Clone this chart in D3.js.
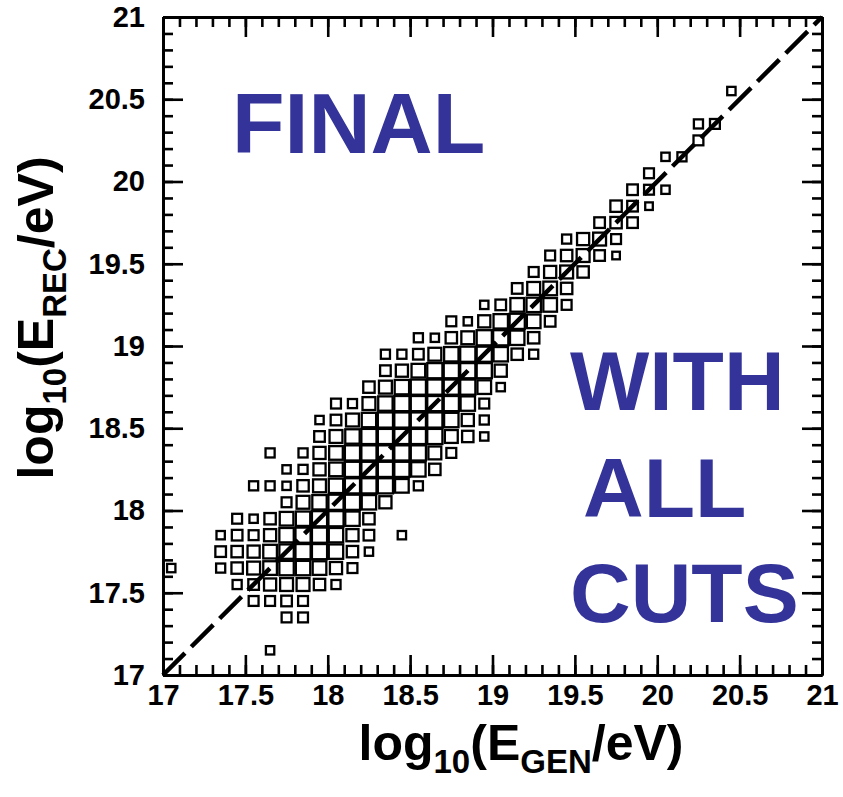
<!DOCTYPE html>
<html>
<head>
<meta charset="utf-8">
<script src="https://cdn.jsdelivr.net/npm/d3@7.9.0/dist/d3.min.js"></script>
<style>
  body { margin: 0; background: #fff; }
  svg { display: block; font-family: "Liberation Sans", Arial, Helvetica, sans-serif; font-weight: bold; }
</style>
</head>
<body>
<svg id="chart" width="843" height="797"></svg>
<script>
// 2D histogram, bins of 0.1 in log10(E). one row per y bin:
// lower edge of the y bin, lower edge of the first x bin, then entries (0 = empty)
const rowY = [17.1, 17.3, 17.4, 17.5, 17.6, 17.7, 17.8, 17.9, 18.0, 18.1, 18.2, 18.3, 18.4, 18.5,
  18.6, 18.7, 18.8, 18.9, 19.0, 19.1, 19.2, 19.3, 19.4, 19.5, 19.6, 19.7, 19.8, 19.9, 20.0, 20.1,
  20.2, 20.3, 20.5];
const rowX0 = [17.6, 17.7, 17.5, 17.4, 17.0, 17.3, 17.3, 17.4, 17.7, 17.5, 17.7, 17.6, 17.9, 17.9,
  18.0, 18.2, 18.3, 18.3, 18.5, 18.7, 18.9, 19.1, 19.2, 19.3, 19.4, 19.6, 19.7, 19.8, 19.9, 20.0,
  20.2, 20.2, 20.4];
const rowCounts = [
  [2],
  [4, 4],
  [4, 4, 5, 4],
  [3, 5, 7, 8, 8, 6, 3],
  [2, 0, 0, 3, 6, 8, 9, 10, 10, 9, 7, 4],
  [5, 6, 7, 9, 10, 11, 11, 10, 6, 2],
  [2, 5, 4, 7, 10, 11, 11, 10, 7, 5, 0, 2],
  [4, 2, 6, 9, 10, 11, 11, 10, 6],
  [4, 8, 10, 11, 11, 10, 7],
  [3, 3, 2, 6, 8, 10, 11, 11, 11, 9, 3],
  [2, 3, 7, 9, 11, 11, 11, 11, 10, 6],
  [3, 0, 3, 7, 9, 11, 11, 11, 11, 11, 8, 4],
  [5, 8, 10, 11, 11, 11, 11, 11, 8, 6, 2],
  [2, 5, 8, 10, 11, 11, 11, 11, 10, 7, 3],
  [4, 3, 8, 10, 11, 11, 11, 11, 10, 4],
  [6, 8, 10, 11, 11, 11, 11, 9, 2],
  [5, 7, 9, 11, 11, 11, 11, 7],
  [3, 3, 5, 8, 10, 11, 11, 10, 6, 3],
  [3, 2, 6, 8, 11, 11, 10, 6],
  [4, 2, 7, 10, 11, 9, 5],
  [2, 5, 9, 10, 9, 4],
  [5, 8, 9, 6],
  [4, 7, 8, 6],
  [4, 6, 8, 5, 1],
  [3, 7, 8, 4],
  [5, 6, 5],
  [6, 5, 1],
  [5, 4, 2],
  [4],
  [2, 3],
  [4],
  [3, 4],
  [2]
];
const majorTicks = [17, 17.5, 18, 18.5, 19, 19.5, 20, 20.5, 21];
const finalLines = ["WITH", "ALL", "CUTS"];

const binW = 0.1;
const svg = d3.select("#chart");
const x = d3.scaleLinear().domain([17, 21]).range([163, 822]);
const y = d3.scaleLinear().domain([17, 21]).range([675, 17]);
const minorTicks = d3.range(170, 211).map(d => d / 10);

// flatten rows into bins
const bins = [];
rowY.forEach((yv, r) => {
  rowCounts[r].forEach((c, k) => {
    if (c > 0) bins.push({ x: rowX0[r] + k * binW, y: yv, n: c });
  });
});

const cell = x(17 + binW) - x(17);
const size = d3.scaleLinear().domain([1, d3.max(bins, d => d.n)]).range([cell * 0.6, cell * 1.06]);
const sw = 2.3;

const boxes = svg.append("g");
boxes.selectAll("rect")
  .data(bins)
  .join("rect")
  .attr("x", d => x(d.x + binW / 2) - size(d.n) / 2 + sw / 2)
  .attr("y", d => y(d.y + binW / 2) - size(d.n) / 2 + sw / 2)
  .attr("width", d => size(d.n) - sw)
  .attr("height", d => size(d.n) - sw)
  .attr("fill", "none")
  .attr("stroke", "#000")
  .attr("stroke-width", sw);

// diagonal E_REC = E_GEN
svg.append("line")
  .attr("x1", x(17)).attr("y1", y(17))
  .attr("x2", x(21)).attr("y2", y(21))
  .attr("stroke", "#000")
  .attr("stroke-width", 4.5)
  .attr("stroke-dasharray", "31 9");

const fmt = d => (d % 1 === 0 ? d3.format("d")(d) : d3.format(".1f")(d));

function drawAxis(axisFn, transform, labels) {
  const vertical = axisFn === d3.axisLeft || axisFn === d3.axisRight;
  const scale = vertical ? y : x;
  const gMinor = svg.append("g").attr("transform", transform)
    .call(axisFn(scale).tickValues(minorTicks).tickSizeInner(-10).tickSizeOuter(0).tickFormat(""));
  const gMajor = svg.append("g").attr("transform", transform)
    .call(axisFn(scale)
      .tickValues(majorTicks).tickSizeInner(-20).tickSizeOuter(0)
      .tickPadding(axisFn === d3.axisLeft ? 18 : 9)
      .tickFormat(labels ? fmt : ""));
  [gMinor, gMajor].forEach(g => {
    g.selectAll("line").attr("stroke", "#000").attr("stroke-width", 2.6);
    g.select(".domain").attr("stroke", "#000").attr("stroke-width", 2.8);
    g.selectAll("text").attr("fill", "#000")
      .style("font-size", "29px").style("font-weight", "bold")
      .style("font-family", "'Liberation Sans', Arial, sans-serif");
  });
}
drawAxis(d3.axisBottom, "translate(0,675)", true);
drawAxis(d3.axisLeft, "translate(163,0)", true);
drawAxis(d3.axisTop, "translate(0,17)", false);
drawAxis(d3.axisRight, "translate(822,0)", false);

// axis titles
function title(g, parts) {
  g.style("font-size", "50px").attr("text-anchor", "middle");
  parts.forEach(([t, sub]) => {
    g.append("tspan")
      .attr("dy", sub ? 13 : (g.selectAll("tspan").size() ? -13 : 0))
      .style("font-size", sub ? "33px" : null)
      .text(t);
  });
}
title(svg.append("text").attr("x", 521).attr("y", 773),
  [["log", 0], ["10", 1], ["(E", 0], ["GEN", 1], ["/eV)", 0]]);
title(svg.append("text").attr("transform", "translate(66,318) rotate(-90)"),
  [["log", 0], ["10", 1], ["(E", 0], ["REC", 1], ["/eV)", 0]]);

// labels
const blue = "#333399";
svg.append("text").attr("x", 232).attr("y", 153).attr("fill", blue)
  .style("font-size", "86px").text("FINAL");
svg.selectAll(".cuts").data(finalLines).join("text")
  .attr("class", "cuts")
  .attr("x", (d, i) => [570, 583, 570][i])
  .attr("y", (d, i) => [410, 517, 622][i])
  .attr("fill", blue)
  .style("font-size", "84px")
  .text(d => d);
</script>
</body>
</html>
